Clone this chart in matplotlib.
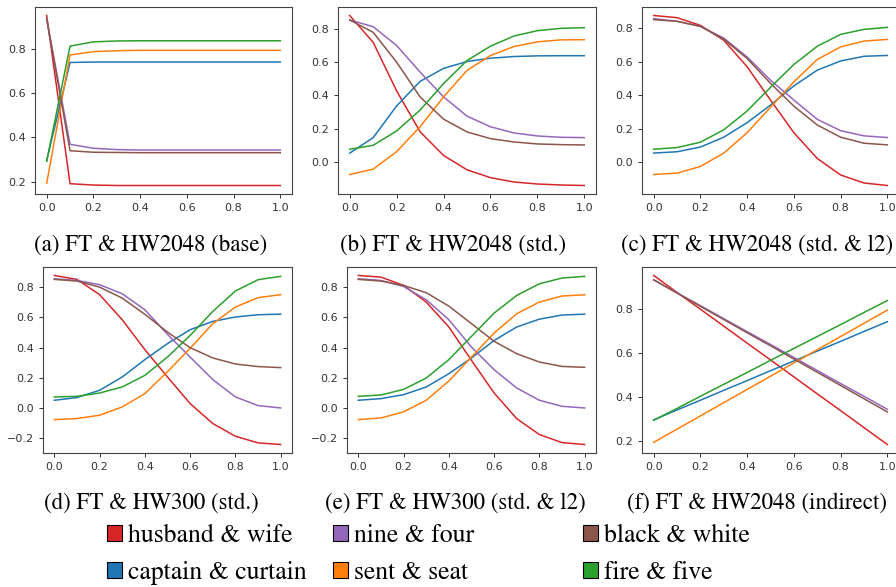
import numpy as np
import matplotlib
matplotlib.use("Agg")
import matplotlib.pyplot as plt
from matplotlib.patches import Patch

x = np.round(np.arange(0, 1.01, 0.1), 1)

names = ["husband & wife", "captain & curtain", "nine & four",
         "sent & seat", "black & white", "fire & five"]
colors = ["tab:red", "tab:blue", "tab:purple", "tab:orange", "tab:brown", "tab:green"]

# (a) FT & HW2048 (base)
a_husband = [0.950, 0.191, 0.185, 0.183, 0.183, 0.183, 0.183, 0.183, 0.183, 0.183, 0.183]
a_captain = [0.295, 0.738, 0.740, 0.740, 0.740, 0.740, 0.740, 0.740, 0.740, 0.740, 0.740]
a_nine    = [0.935, 0.369, 0.351, 0.345, 0.343, 0.343, 0.343, 0.343, 0.343, 0.343, 0.343]
a_sent    = [0.193, 0.772, 0.787, 0.791, 0.793, 0.793, 0.793, 0.793, 0.793, 0.793, 0.793]
a_black   = [0.933, 0.340, 0.333, 0.332, 0.331, 0.331, 0.331, 0.331, 0.331, 0.331, 0.331]
a_fire    = [0.293, 0.812, 0.831, 0.835, 0.836, 0.836, 0.836, 0.836, 0.836, 0.836, 0.836]

# (b) FT & HW2048 (std.)
b_husband = [0.879, 0.718, 0.427, 0.182, 0.040, -0.046, -0.093, -0.119, -0.131, -0.137, -0.140]
b_captain = [0.054, 0.147, 0.337, 0.484, 0.562, 0.603, 0.623, 0.633, 0.637, 0.638, 0.638]
b_nine    = [0.852, 0.812, 0.699, 0.540, 0.391, 0.276, 0.212, 0.175, 0.157, 0.149, 0.147]
b_sent    = [-0.074, -0.042, 0.063, 0.212, 0.391, 0.550, 0.639, 0.693, 0.721, 0.733, 0.734]
b_black   = [0.852, 0.778, 0.599, 0.391, 0.258, 0.181, 0.141, 0.121, 0.109, 0.105, 0.103]
b_fire    = [0.077, 0.101, 0.187, 0.312, 0.471, 0.609, 0.695, 0.756, 0.788, 0.802, 0.806]

# (c) FT & HW2048 (std. & l2)
c_husband = [0.877, 0.864, 0.818, 0.729, 0.570, 0.371, 0.176, 0.022, -0.077, -0.125, -0.140]
c_captain = [0.054, 0.062, 0.090, 0.149, 0.236, 0.341, 0.456, 0.550, 0.605, 0.633, 0.638]
c_nine    = [0.858, 0.843, 0.812, 0.742, 0.629, 0.490, 0.371, 0.256, 0.188, 0.157, 0.147]
c_sent    = [-0.074, -0.066, -0.026, 0.054, 0.176, 0.328, 0.480, 0.614, 0.689, 0.724, 0.734]
c_black   = [0.852, 0.842, 0.812, 0.735, 0.620, 0.471, 0.335, 0.222, 0.149, 0.113, 0.103]
c_fire    = [0.077, 0.087, 0.119, 0.193, 0.306, 0.447, 0.584, 0.693, 0.764, 0.794, 0.806]

# (d) FT & HW300 (std.)
d_husband = [0.877, 0.851, 0.750, 0.584, 0.386, 0.205, 0.029, -0.103, -0.187, -0.231, -0.242]
d_captain = [0.051, 0.069, 0.117, 0.205, 0.320, 0.426, 0.518, 0.573, 0.602, 0.617, 0.621]
d_nine    = [0.855, 0.844, 0.816, 0.756, 0.650, 0.487, 0.337, 0.188, 0.073, 0.016, 0.000]
d_sent    = [-0.077, -0.070, -0.048, 0.007, 0.095, 0.240, 0.395, 0.558, 0.668, 0.730, 0.750]
d_black   = [0.851, 0.840, 0.800, 0.727, 0.620, 0.502, 0.399, 0.331, 0.291, 0.274, 0.267]
d_fire    = [0.073, 0.077, 0.099, 0.139, 0.216, 0.337, 0.480, 0.639, 0.774, 0.849, 0.871]

# (e) FT & HW300 (std. & l2)
e_husband = [0.877, 0.866, 0.811, 0.701, 0.536, 0.315, 0.099, -0.071, -0.176, -0.229, -0.242]
e_captain = [0.051, 0.062, 0.088, 0.139, 0.227, 0.331, 0.447, 0.536, 0.588, 0.615, 0.621]
e_nine    = [0.855, 0.844, 0.804, 0.716, 0.584, 0.403, 0.253, 0.132, 0.051, 0.011, 0.000]
e_sent    = [-0.077, -0.066, -0.026, 0.051, 0.179, 0.337, 0.496, 0.624, 0.701, 0.741, 0.749]
e_black   = [0.851, 0.840, 0.811, 0.763, 0.674, 0.558, 0.441, 0.359, 0.304, 0.275, 0.269]
e_fire    = [0.077, 0.086, 0.123, 0.198, 0.320, 0.474, 0.628, 0.745, 0.822, 0.860, 0.871]

# (f) FT & HW2048 (indirect)
f_husband = [0.950, 0.873, 0.797, 0.720, 0.643, 0.567, 0.490, 0.413, 0.337, 0.260, 0.183]
f_captain = [0.295, 0.340, 0.384, 0.429, 0.473, 0.518, 0.562, 0.607, 0.651, 0.696, 0.740]
f_nine    = [0.930, 0.871, 0.813, 0.754, 0.695, 0.637, 0.578, 0.519, 0.460, 0.402, 0.343]
f_sent    = [0.193, 0.253, 0.313, 0.373, 0.433, 0.493, 0.553, 0.613, 0.673, 0.733, 0.793]
f_black   = [0.930, 0.870, 0.810, 0.750, 0.690, 0.631, 0.571, 0.511, 0.451, 0.391, 0.331]
f_fire    = [0.293, 0.347, 0.402, 0.456, 0.510, 0.565, 0.619, 0.673, 0.727, 0.782, 0.836]

captions = ["(a) FT & HW2048 (base)", "(b) FT & HW2048 (std.)",
            "(c) FT & HW2048 (std. & l2)", "(d) FT & HW300 (std.)",
            "(e) FT & HW300 (std. & l2)", "(f) FT & HW2048 (indirect)"]

panels = [
    [a_husband, a_captain, a_nine, a_sent, a_black, a_fire],
    [b_husband, b_captain, b_nine, b_sent, b_black, b_fire],
    [c_husband, c_captain, c_nine, c_sent, c_black, c_fire],
    [d_husband, d_captain, d_nine, d_sent, d_black, d_fire],
    [e_husband, e_captain, e_nine, e_sent, e_black, e_fire],
    [f_husband, f_captain, f_nine, f_sent, f_black, f_fire],
]

W, H = 896, 587
fig = plt.figure(figsize=(W / 100, H / 100), dpi=100)

# axes boxes in pixels: left, right, top, bottom
boxes = [(35, 292, 7, 194), (338, 596, 7, 194), (642, 899, 7, 194),
         (43, 292, 267, 453), (347, 596, 267, 453), (642, 899, 267, 453)]
cap_pos = [(151, 245), (453, 245), (757, 245), (151, 503), (455, 503), (757, 503)]

serif = "STIXGeneral"

for i in range(6):
    l, r, t, b = boxes[i]
    ax = fig.add_axes([l / W, 1 - b / H, (r - l) / W, (b - t) / H])
    for ys, c in zip(panels[i], colors):
        ax.plot(x, ys, color=c, lw=1.1)
    ax.set_xticks([0.0, 0.2, 0.4, 0.6, 0.8, 1.0])
    ax.tick_params(labelsize=8, length=3, width=0.7, colors="#333333")
    for s in ax.spines.values():
        s.set_linewidth(0.8)
        s.set_color("#444444")
    cx, cy = cap_pos[i]
    fig.text(cx / W, 1 - cy / H, captions[i], ha="center", va="center",
             family=serif, fontsize=16.5)

# legend, one column at a time
cols = [(0, 1, 107), (2, 3, 333), (4, 5, 583)]
for i1, i2, px in cols:
    handles = [Patch(facecolor=colors[k], edgecolor="black", linewidth=0.8)
               for k in (i1, i2)]
    fig.legend(handles, [names[i1], names[i2]], loc="upper left",
               bbox_to_anchor=(px / W, 1 - 524 / H), frameon=False,
               prop={"family": serif, "size": 18.5}, handlelength=0.6,
               handleheight=0.6, handletextpad=0.2, labelspacing=0.5,
               borderpad=0, borderaxespad=0)

fig.savefig("out.png", dpi=100)
